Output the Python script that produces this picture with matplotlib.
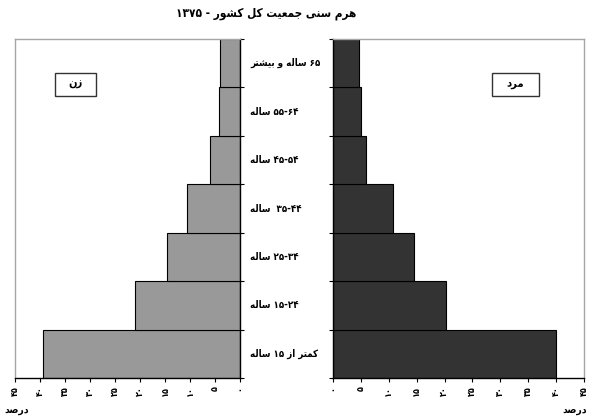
import re
import matplotlib
matplotlib.use("Agg")
import matplotlib.pyplot as plt
from matplotlib.patches import Rectangle
from matplotlib.transforms import blended_transform_factory

title = "هرم سنی جمعیت کل کشور - ۱۳۷۵"
groups = ["کمتر از ۱۵ ساله", "۱۵-۲۴ ساله", "۲۵-۳۴ ساله", "۳۵-۴۴  ساله",
          "۴۵-۵۴ ساله", "۵۵-۶۴ ساله", "۶۵ ساله و بیشتر"]
women = [39.4, 21.0, 14.6, 10.6, 6.0, 4.3, 4.1]
men = [39.9, 20.3, 14.5, 10.8, 5.9, 5.0, 4.7]
ticks = [0, 5, 10, 15, 20, 25, 30, 35, 40, 45]
women_label = "زن"
men_label = "مرد"
unit_label = "درصد"

# arabic shaping by hand (matplotlib does no complex text layout)
FORMS = {
    "ا": (0xFE8D, 0xFE8E, None, None),
    "ب": (0xFE8F, 0xFE90, 0xFE91, 0xFE92),
    "ت": (0xFE95, 0xFE96, 0xFE97, 0xFE98),
    "ج": (0xFE9D, 0xFE9E, 0xFE9F, 0xFEA0),
    "د": (0xFEA9, 0xFEAA, None, None),
    "ر": (0xFEAD, 0xFEAE, None, None),
    "ز": (0xFEAF, 0xFEB0, None, None),
    "س": (0xFEB1, 0xFEB2, 0xFEB3, 0xFEB4),
    "ش": (0xFEB5, 0xFEB6, 0xFEB7, 0xFEB8),
    "ص": (0xFEB9, 0xFEBA, 0xFEBB, 0xFEBC),
    "ع": (0xFEC9, 0xFECA, 0xFECB, 0xFECC),
    "ک": (0xFB8E, 0xFB8F, 0xFB90, 0xFB91),
    "ل": (0xFEDD, 0xFEDE, 0xFEDF, 0xFEE0),
    "م": (0xFEE1, 0xFEE2, 0xFEE3, 0xFEE4),
    "ن": (0xFEE5, 0xFEE6, 0xFEE7, 0xFEE8),
    "ه": (0xFEE9, 0xFEEA, 0xFEEB, 0xFEEC),
    "و": (0xFEED, 0xFEEE, None, None),
    "ی": (0xFBFC, 0xFBFD, 0xFBFE, 0xFBFF),
}


def dual(c):
    return c in FORMS and FORMS[c][2] is not None


def shape(s):
    out = []
    for i, c in enumerate(s):
        if c not in FORMS:
            out.append(c)
            continue
        prev_j = i > 0 and dual(s[i - 1])
        next_j = dual(c) and i + 1 < len(s) and s[i + 1] in FORMS
        f = FORMS[c]
        if prev_j and next_j:
            code = f[3]
        elif next_j:
            code = f[2]
        elif prev_j:
            code = f[1]
        else:
            code = f[0]
        out.append(chr(code))
    return "".join(out)


def fa(s):
    tokens = re.findall(r"[۰-۹]+(?:-[۰-۹]+)*|.", shape(s))
    return "".join(reversed(tokens))


def fa_num(n):
    return "".join("۰۱۲۳۴۵۶۷۸۹"[int(d)] for d in str(n))


plt.rcParams['font.family'] = ['DejaVu Sans']
plt.rcParams['font.weight'] = 'bold'
plt.rcParams['font.stretch'] = 'condensed'

fig = plt.figure(figsize=(5.89, 4.2), dpi=100)
axl = fig.add_axes([15 / 589, 42 / 420, 225 / 589, 339 / 420])
axr = fig.add_axes([333 / 589, 42 / 420, 251 / 589, 339 / 420])

y = list(range(len(groups)))
axl.barh(y, women, height=1.0, color="#999999", edgecolor="black", linewidth=0.8)
axr.barh(y, men, height=1.0, color="#333333", edgecolor="black", linewidth=0.8)

frame = "#a6a6a6"
for ax, side in ((axl, "right"), (axr, "left")):
    ax.set_ylim(-0.5, len(groups) - 0.5)
    ax.set_yticks([k - 0.5 for k in range(len(groups) + 1)])
    ax.set_yticklabels([])
    ax.yaxis.set_ticks_position(side)
    ax.tick_params(axis="y", length=3, width=0.8, direction="out")
    ax.set_xticks(ticks)
    ax.set_xticklabels([fa_num(t) for t in ticks], rotation=90, fontsize=6.5,
                       fontweight="bold")
    ax.tick_params(axis="x", length=3, width=0.8, direction="out", pad=3)
    for sp in ax.spines.values():
        sp.set_color(frame)
        sp.set_linewidth(1)
    ax.spines[side].set_color("black")
    ax.spines["bottom"].set_color("black")

axl.set_xlim(45, 0)
axr.set_xlim(0, 45)

# legend boxes
axl.add_patch(Rectangle((0.178, 0.832), 0.182, 0.068, transform=axl.transAxes,
                        facecolor="white", edgecolor="#333333", linewidth=1))
axl.text(0.269, 0.866, fa(women_label), transform=axl.transAxes, ha="center",
         va="center", fontsize=8, fontweight="bold")
axr.add_patch(Rectangle((0.633, 0.832), 0.187, 0.068, transform=axr.transAxes,
                        facecolor="white", edgecolor="#333333", linewidth=1))
axr.text(0.727, 0.866, fa(men_label), transform=axr.transAxes, ha="center",
         va="center", fontsize=8, fontweight="bold")

# category labels between the panels
tr = blended_transform_factory(fig.transFigure, axl.transData)
for i, g in enumerate(groups):
    fig.text(250 / 589, i, fa(g), transform=tr, ha="left", va="center",
             fontsize=7, fontweight="bold")

fig.text(266 / 589, 1 - 13 / 420, fa(title), ha="center", va="center",
         fontsize=8.5, fontweight="bold")
fig.text(17 / 589, 1 - 410 / 420, fa(unit_label), ha="center", va="center",
         fontsize=7.5, fontweight="bold")
fig.text(587 / 589, 1 - 410 / 420, fa(unit_label), ha="right", va="center",
         fontsize=7.5, fontweight="bold")

fig.savefig("out.png", dpi=100)
